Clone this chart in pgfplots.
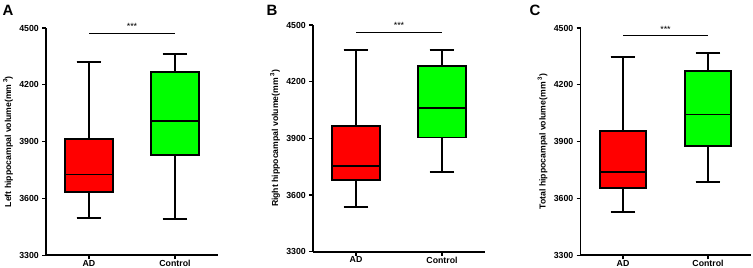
\documentclass[border=0pt]{standalone}
\usepackage{fontspec}
\setmainfont{Liberation Sans}
\usepackage{pgfplots}
\pgfplotsset{compat=1.18}
\usepgfplotslibrary{statistics}
\definecolor{boxred}{HTML}{FF0000}
\definecolor{boxgreen}{HTML}{00FF00}
\pgfplotsset{
  panel/.style={
    scale only axis, width=172bp, height=227bp,
    xmin=-0.5, xmax=1.5, ymin=3300, ymax=4500,
    axis x line=bottom, axis y line=left,
    axis line style={-, line width=1.6bp},
    xtick={0,1}, xticklabels={AD,Control},
    ytick={3300,3600,3900,4200,4500},
    tick align=outside, major tick length=4bp,
    tick style={line width=1.3bp, black},
    ticklabel style={font=\bfseries\fontsize{8.8}{9}\selectfont, inner sep=0pt},
    /pgf/number format/assume math mode=true,
    /pgf/number format/set thousands separator={},
    yticklabel style={xshift=-3bp},
    xticklabel style={yshift=-1bp},
    every axis y label/.style={at={(axis description cs:0,0.5)}, xshift=-38bp, rotate=90, anchor=center,
      font=\bfseries\fontsize{8.7}{10}\selectfont},
    clip=false,
    boxplot/draw direction=y,
    boxplot/every box/.style={draw=black, line width=1.8bp},
    boxplot/every median/.style={draw=black, line width=1.8bp},
    boxplot/every whisker/.style={draw=black, line width=1.8bp},
  },
  bx/.style={draw=black, line width=1.8bp, fill=#1, solid},
}
\newcommand{\sig}[1]{\addplot[black, line width=1.6bp] coordinates {(0,#1) (1,#1)} node[pos=0.5, anchor=base, yshift=3.5bp, font=\fontsize{9}{9}\selectfont] {***};}
\begin{document}
\begin{tikzpicture}
\useasboundingbox (0,0) rectangle (753bp,268bp);
% Panel A
\begin{axis}[panel, at={(46bp,12.7bp)}, anchor=south west, height=227.3bp,
  ylabel={Left hippocampal volume(mm\,\textsuperscript{3})}]
\addplot[bx=boxred, boxplot prepared={lower whisker=3497, lower quartile=3634, median=3727, upper quartile=3914, upper whisker=4322, draw position=0, box extend=0.55, whisker extend=0.29}] coordinates {};
\addplot[bx=boxgreen, boxplot prepared={lower whisker=3490, lower quartile=3831, median=4007, upper quartile=4266, upper whisker=4361, draw position=1, box extend=0.55, whisker extend=0.29}] coordinates {};
\sig{4472}
\end{axis}
% Panel B
\begin{axis}[panel, at={(313bp,16.3bp)}, anchor=south west, height=226.7bp,
  ylabel={Right hippocampal volume(mm\,\textsuperscript{3})}]
\addplot[bx=boxred, boxplot prepared={lower whisker=3535, lower quartile=3679, median=3755, upper quartile=3967, upper whisker=4368, draw position=0, box extend=0.55, whisker extend=0.29}] coordinates {};
\addplot[bx=boxgreen, boxplot prepared={lower whisker=3720, lower quartile=3905, median=4059, upper quartile=4281, upper whisker=4368, draw position=1, box extend=0.55, whisker extend=0.29}] coordinates {};
\sig{4461}
\end{axis}
% Panel C
\begin{axis}[panel, at={(580.5bp,12.7bp)}, anchor=south west, width=170bp, height=227.3bp,
  ylabel={Total hippocampal volume(mm\,\textsuperscript{3})}]
\addplot[bx=boxred, boxplot prepared={lower whisker=3528, lower quartile=3656, median=3741, upper quartile=3957, upper whisker=4347, draw position=0, box extend=0.55, whisker extend=0.29}] coordinates {};
\addplot[bx=boxgreen, boxplot prepared={lower whisker=3688, lower quartile=3878, median=4043, upper quartile=4275, upper whisker=4368, draw position=1, box extend=0.55, whisker extend=0.29}] coordinates {};
\sig{4460}
\end{axis}
\node[anchor=north west, inner sep=0pt, font=\bfseries\fontsize{15}{15}\selectfont] at (2.5bp,263bp) {A};
\node[anchor=north west, inner sep=0pt, font=\bfseries\fontsize{15}{15}\selectfont] at (266.5bp,263bp) {B};
\node[anchor=north west, inner sep=0pt, font=\bfseries\fontsize{15}{15}\selectfont] at (529.5bp,263bp) {C};
\end{tikzpicture}
\end{document}
